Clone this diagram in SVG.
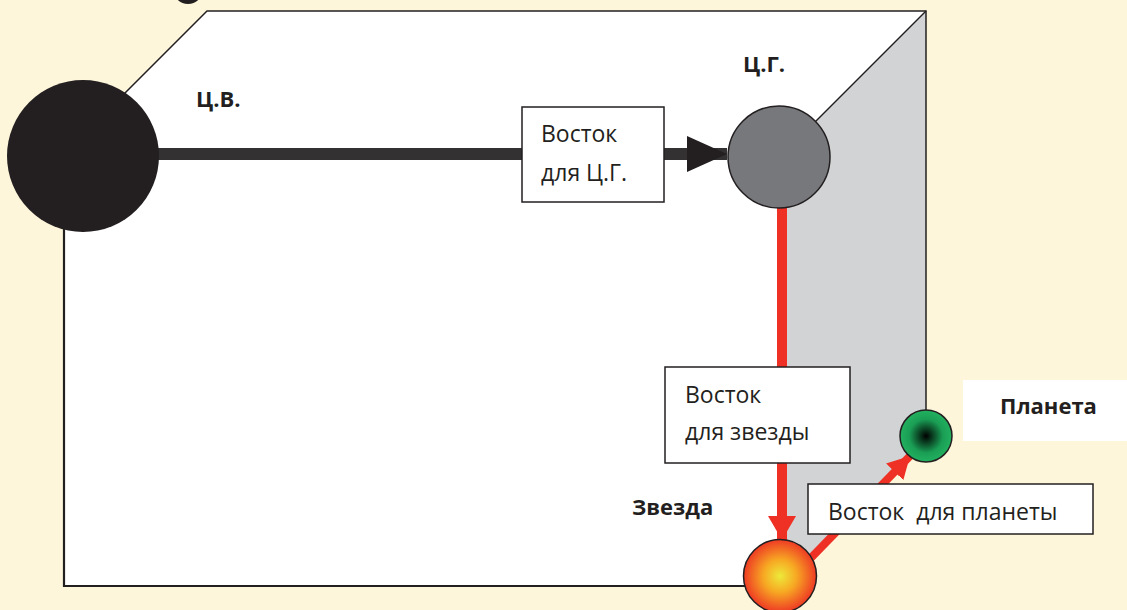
<svg xmlns="http://www.w3.org/2000/svg" width="1127" height="610" viewBox="0 0 1127 610">
<style>
.t{font-family:"Open Sans","Noto Sans","Liberation Sans",sans-serif;font-size:23px;fill:#231F20}
.b{font-weight:bold;font-size:22px}
.box{fill:#FFFFFF;stroke:#231F20;stroke-width:1.5}
.edge{stroke:#231F20;stroke-width:1.5;fill:none}
</style>
<defs>
<radialGradient id="gStar" cx="0.5" cy="0.5" r="0.5">
<stop offset="0" stop-color="#EDE93A"/>
<stop offset="0.45" stop-color="#F7A823"/>
<stop offset="1" stop-color="#EE3A24"/>
</radialGradient>
<radialGradient id="gPlanet" cx="0.5" cy="0.5" r="0.5">
<stop offset="0" stop-color="#000000"/>
<stop offset="0.65" stop-color="#1A9E55"/>
<stop offset="1" stop-color="#22B15F"/>
</radialGradient>
<marker id="ahDark" markerUnits="userSpaceOnUse" markerWidth="42" markerHeight="38" refX="40" refY="18" orient="auto">
<path d="M0,0 L40,18 L0,36 Z" fill="#231F20"/>
</marker>
<marker id="ahRed" markerUnits="userSpaceOnUse" markerWidth="30" markerHeight="30" refX="24" refY="14" orient="auto">
<path d="M0,0 L24,14 L0,28 Z" fill="#EE3124"/>
</marker>
<marker id="ahRedS" markerUnits="userSpaceOnUse" markerWidth="26" markerHeight="26" refX="22" refY="12" orient="auto">
<path d="M0,0 L22,12 L0,24 Z" fill="#EE3124"/>
</marker>
</defs>
<rect x="0" y="0" width="1127" height="610" fill="#FDF6DA"/>
<circle cx="188" cy="-11" r="15" fill="#231F20"/>
<g id="block">
<polygon points="64,154 207,11 926,11 783,154" fill="#FFFFFF"/>
<rect x="64" y="154" width="719" height="432" fill="#FFFFFF"/>
<polygon points="783,154 926,11 926,443 783,586" fill="#D1D3D4"/>
<polyline class="edge" points="64,154 207,11 926,11 926,443"/>
<line class="edge" x1="926" y1="11" x2="783" y2="154"/>
<polyline points="64,154 64,586 783,586" fill="none" stroke="#231F20" stroke-width="2.2"/>
</g>
<g id="connectors">
<line x1="150" y1="154" x2="522" y2="154" stroke="#333132" stroke-width="12"/>
<line x1="664" y1="154" x2="727" y2="154" stroke="#333132" stroke-width="12" marker-end="url(#ahDark)"/>
<line x1="782" y1="205" x2="782" y2="368" stroke="#EE3124" stroke-width="10"/>
<line x1="782" y1="462" x2="782" y2="540" stroke="#EE3124" stroke-width="10" marker-end="url(#ahRed)"/>
<line x1="806" y1="563" x2="910" y2="456" stroke="#EE3124" stroke-width="8" marker-end="url(#ahRedS)"/>
</g>
<g id="node-cv">
<circle cx="83" cy="156" r="76" fill="#231F20"/>
<text class="t b" x="196" y="107">Ц.В.</text>
</g>
<g id="node-cg">
<circle cx="779" cy="157" r="51" fill="#77787B" stroke="#231F20" stroke-width="1.5"/>
<text class="t b" x="743" y="72">Ц.Г.</text>
</g>
<g id="box-cg">
<rect class="box" x="522" y="107" width="142" height="95"/>
<text class="t" x="541" y="142">Восток</text>
<text class="t" x="541" y="181">для Ц.Г.</text>
</g>
<g id="box-star">
<rect class="box" x="665" y="367" width="185" height="96"/>
<text class="t" x="685" y="403">Восток</text>
<text class="t" x="685" y="440">для звезды</text>
</g>
<g id="node-star">
<circle cx="780" cy="576" r="36.5" fill="url(#gStar)" stroke="#231F20" stroke-width="1.5"/>
<text class="t b" x="632" y="515">Звезда</text>
</g>
<g id="node-planet">
<circle cx="926" cy="436" r="26" fill="url(#gPlanet)" stroke="#231F20" stroke-width="1.5"/>
<rect x="963" y="380" width="164" height="61" fill="#FFFFFF"/>
<text class="t b" x="1000" y="414">Планета</text>
</g>
<g id="box-planet">
<rect class="box" x="808" y="484" width="285" height="50"/>
<text class="t" x="828" y="520" xml:space="preserve">Восток  для планеты</text>
</g>
</svg>
